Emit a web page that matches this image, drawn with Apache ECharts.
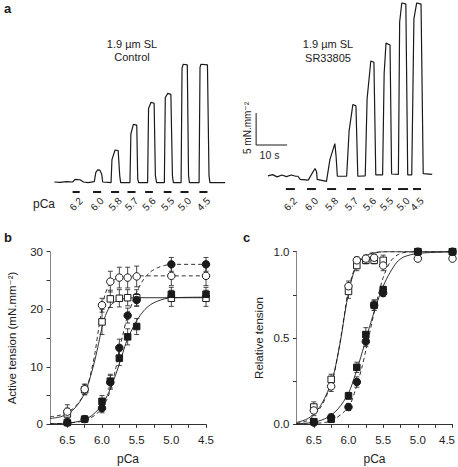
<!DOCTYPE html>
<html><head><meta charset="utf-8">
<script src="https://cdn.jsdelivr.net/npm/echarts@6/dist/echarts.min.js"></script>
<style>html,body{margin:0;padding:0;background:#fff;}#c{width:458px;height:467px;}</style>
</head><body><div id="c"></div>
<script>
// ---------- Panel a: raw tension traces (time in s, tension in mN.mm-2) ----------
const ctrlT = [0.1,1.9,4.0,6.0,6.8,8.4,9.5,11.0, 13.0,13.5,14.1,14.8,15.4,15.7, 18.4,18.7,19.7,20.7,21.2,21.5, 24.5,24.8,25.6,26.7,27.0,27.3, 30.2,30.5,31.3,32.3,32.7,33.1, 35.6,35.9,36.7,37.7,38.2,38.5, 41.0,41.3,41.7,43.0,43.4,43.7, 46.8,47.1,47.4,49.5,50.0,50.3, 55.2];
const ctrlF = [0,-0.05,0.05,0.0,0.4,0.35,0.0,-0.1, 0.05,1.5,1.9,1.85,1.2,0.0, -0.1,3.5,5.0,4.9,1.0,-0.1, -0.1,7.5,9.0,8.9,0.5,-0.1, -0.1,11.5,12.45,12.3,1.0,-0.1, -0.1,13.2,13.85,13.7,1.0,-0.1, -0.1,17.8,18.4,18.3,1.0,-0.1, -0.1,17.9,18.4,18.3,1.0,-0.1, -0.1];
const srT = [69.0,70.5,72.0,73.5,75.0,76.5,78.0,78.7,79.4, 82.0,83.2,84.2,84.7,84.9, 87.9,89.0,90.6,91.0,91.4, 94.4,95.2,96.4,97.4,98.0, 100.4,101.0,102.2,103.2,103.8, 106.0,106.5,107.1,108.4,108.9, 111.1,111.5,112.2,113.5,114.1, 115.4,116.1,117.0,118.4,119.1, 122.0];
const srF = [0.95,1.15,0.8,1.1,0.85,1.1,0.9,0.9,0.4, 0.3,1.3,2.1,1.6,0.4, 0.1,3.5,6.0,4.0,0.9, 0.9,8.0,12.1,11.9,0.9, 0.95,13.0,18.9,18.7,1.1, 1.1,17.0,21.7,21.4,1.25, 1.2,25.0,28.0,27.8,1.1, 1.1,25.5,28.0,27.8,1.3, 1.2];
const stepLabels = ['6.2','6.0','5.8','5.7','5.6','5.5','5.0','4.5'];
const ctrlBarStart = [6.0,12.6,18.4,23.7,29.4,35.4,40.8,46.9];
const ctrlBarEnd   = [8.3,15.2,21.0,26.3,31.9,37.9,43.4,49.5];
const ctrlBarLevel = -1.56;
const srBarStart = [74.8,81.6,88.1,94.5,100.3,105.8,111.0,115.8];
const srBarEnd   = [77.7,84.5,91.0,97.4,103.2,108.7,114.2,118.4];
const srBarLevel = -1.1;
const stepLabelLevel = -3.45;
const scaleOrigin = [65.2, 5.78]; // s, mN.mm-2
const scaleLenT = 10, scaleLenF = 5;

// ---------- Panels b & c: data points ----------
const pCaPts = [6.5, 6.25, 6.0, 5.88, 5.75, 5.63, 5.5, 5.0, 4.5];
const bOpenCirc    = [2.2, 6.1, 20.7, 24.8, 25.5, 25.5, 25.7, 25.8, 25.8];
const bOpenCircErr = [1.2, 0.9, 1.2, 1.8, 1.8, 1.8, 1.8, 1.7, 1.7];
const bOpenSq      = [1.8, 6.0, 17.8, 21.8, 21.9, 22.0, 22.0, 21.9, 21.9];
const bOpenSqErr   = [1.0, 0.9, 2.2, 1.5, 1.5, 1.4, 1.4, 1.4, 1.4];
const bFillCirc    = [0.3, 0.9, 2.8, 7.3, 13.3, 18.9, 21.6, 27.8, 27.8];
const bFillCircErr = [0.3, 0.4, 0.8, 1.2, 1.5, 1.3, 1.1, 1.2, 1.2];
const bFillSq      = [0.3, 0.9, 4.0, 7.5, 11.5, 15.2, 17.0, 22.6, 22.6];
const bFillSqErr   = [0.3, 0.4, 1.0, 1.2, 1.3, 1.4, 1.4, 1.2, 1.2];

const cOpenCirc    = [0.08, 0.22, 0.80, 0.95, 0.96, 0.965, 0.92, 0.96, 0.96];
const cOpenCircErr = [0.03, 0.03, 0.03, 0.02, 0.02, 0.02, 0.03, 0.01, 0.01];
const cOpenSq      = [0.10, 0.26, 0.77, 0.92, 0.95, 0.95, 0.95, 1.0, 1.0];
const cOpenSqErr   = [0.03, 0.03, 0.04, 0.03, 0.02, 0.02, 0.03, 0.01, 0.01];
const cFillCirc    = [0.01, 0.04, 0.10, 0.245, 0.48, 0.69, 0.76, 1.0, 1.0];
const cFillCircErr = [0.01, 0.02, 0.02, 0.03, 0.03, 0.03, 0.02, 0.0, 0.0];
const cFillSq      = [0.015, 0.03, 0.165, 0.33, 0.52, 0.69, 0.78, 1.0, 1.0];
const cFillSqErr   = [0.01, 0.02, 0.02, 0.03, 0.04, 0.03, 0.02, 0.0, 0.0];

// ---------- fitted curves ----------
const bCurveOpenSqX   = [6.75,6.6,6.5,6.4,6.3,6.22,6.15,6.1,6.05,6.0,5.95,5.88,5.8,5.7,5.6,5.5,5.0,4.5];
const bCurveOpenSqY   = [1.0,1.3,1.8,2.7,4.3,6.3,9.0,11.3,14.0,16.8,18.9,20.6,21.4,21.8,21.95,22.0,22.0,22.0];
const bCurveOpenCircX = [6.75,6.6,6.5,6.4,6.3,6.22,6.15,6.1,6.05,6.0,5.95,5.88,5.8,5.7,5.6,5.5,5.0,4.5];
const bCurveOpenCircY = [1.3,1.6,2.1,2.9,4.4,6.2,9.5,12.5,16.5,20.2,22.8,24.5,25.3,25.6,25.75,25.8,25.8,25.8];
const bCurveFillSqX   = [6.75,6.5,6.3,6.2,6.1,6.0,5.9,5.8,5.75,5.7,5.64,5.55,5.5,5.4,5.3,5.2,5.1,5.0,4.5];
const bCurveFillSqY   = [0.1,0.2,0.6,1.1,2.0,3.4,5.6,8.7,10.5,12.4,14.6,16.9,18.0,19.7,20.8,21.4,21.8,22.0,22.1];
const bCurveFillCircX = [6.75,6.5,6.3,6.2,6.1,6.0,5.9,5.8,5.75,5.7,5.64,5.55,5.5,5.4,5.3,5.2,5.1,5.0,4.5];
const bCurveFillCircY = [0.1,0.2,0.5,0.9,1.6,2.8,5.2,9.8,13.0,15.5,18.5,21.5,23.0,25.2,26.5,27.2,27.6,27.8,27.8];

const cCurveLeftX   = [6.75,6.6,6.5,6.4,6.3,6.22,6.15,6.1,6.05,6.0,5.94,5.88,5.8,5.7,5.6,5.5,5.0,4.5];
const cCurveLeftY   = [0.01,0.03,0.06,0.11,0.19,0.28,0.41,0.52,0.65,0.76,0.86,0.92,0.96,0.985,0.995,1.0,1.0,1.0];
const cCurveLeftDX  = [6.75,6.6,6.5,6.4,6.3,6.22,6.15,6.1,6.05,6.0,5.94,5.88,5.8,5.7,5.6,5.5,5.0,4.5];
const cCurveLeftDY  = [0.005,0.02,0.05,0.1,0.18,0.27,0.41,0.53,0.66,0.78,0.87,0.93,0.97,0.99,0.997,1.0,1.0,1.0];
const cCurveRightX  = [6.75,6.5,6.3,6.15,6.0,5.9,5.8,5.75,5.7,5.6,5.5,5.4,5.3,5.2,5.0,4.5];
const cCurveRightY  = [0.003,0.012,0.04,0.09,0.18,0.29,0.42,0.49,0.56,0.69,0.80,0.88,0.94,0.97,0.99,1.0];
const cCurveRightDX = [6.75,6.5,6.25,6.0,5.9,5.8,5.75,5.7,5.6,5.5,5.4,5.3,5.2,5.0,4.5];
const cCurveRightDY = [0.0,0.005,0.02,0.1,0.2,0.34,0.43,0.52,0.7,0.85,0.94,0.98,0.995,1.0,1.0];

// ---------- build ----------
const FONT = "'Liberation Sans', Arial, 'DejaVu Sans', sans-serif";
const INK = '#1a1a1a';
const zip = (a, b) => a.map((v, i) => [v, b[i]]);
const zip3 = (a, b, c) => a.map((v, i) => [v, b[i], c[i]]);

function curve(grid, xs, ys, dashed) {
  return { type: 'line', xAxisIndex: grid, yAxisIndex: grid, data: zip(xs, ys), smooth: 0.3,
    showSymbol: false, symbol: 'none', z: 2, silent: true,
    lineStyle: { color: INK, width: 0.9, type: dashed ? [4, 3] : 'solid' } };
}
function errs(grid, xs, ys, es) {
  return { type: 'custom', xAxisIndex: grid, yAxisIndex: grid, data: zip3(xs, ys, es), z: 3, silent: true,
    renderItem: (p, api) => {
      const x = api.value(0), y = api.value(1), e = api.value(2);
      const t = api.coord([x, y + e]), b = api.coord([x, y - e]);
      const st = { stroke: '#333', lineWidth: 0.9 };
      return { type: 'group', children: [
        { type: 'line', shape: { x1: t[0], y1: t[1], x2: b[0], y2: b[1] }, style: st },
        { type: 'line', shape: { x1: t[0] - 2.5, y1: t[1], x2: t[0] + 2.5, y2: t[1] }, style: st },
        { type: 'line', shape: { x1: b[0] - 2.5, y1: b[1], x2: b[0] + 2.5, y2: b[1] }, style: st }
      ]};
    } };
}
function pts(grid, xs, ys, symbol, filled) {
  return { type: 'scatter', xAxisIndex: grid, yAxisIndex: grid, data: zip(xs, ys), z: 4, silent: true,
    symbol: symbol, symbolSize: symbol === 'rect' ? 6.5 : 7.5,
    itemStyle: { color: filled ? INK : '#fff', borderColor: INK, borderWidth: 1, opacity: 1 } };
}
function bars(starts, ends, level) {
  return starts.map((s, i) => [s, ends[i], level]);
}

const ticksX = [6.5,6.25,6.0,5.75,5.5,5.25,5.0,4.75,4.5];
const labelsX = [6.5,6.0,5.5,5.0,4.5];
function pcaAxis(grid, squeezeLast) {
  return { type: 'value', gridIndex: grid, inverse: true, min: 4.5, max: 6.75, offset: 4,
    axisLine: { show: true, lineStyle: { color: '#333', width: 1 } },
    axisTick: { show: true, customValues: ticksX, length: 3.5, lineStyle: { color: '#333' } },
    axisLabel: { customValues: labelsX, fontSize: 11.5, color: '#222', fontFamily: FONT, margin: 6,
      formatter: v => (squeezeLast && v === 4.5) ? '{r|4.5}' : v.toFixed(1),
      rich: { r: { fontSize: 11.5, color: '#222', fontFamily: FONT, padding: [0, 11, 0, 0] } } },
    splitLine: { show: false },
    name: 'pCa', nameLocation: 'middle', nameGap: 25,
    nameTextStyle: { fontSize: 12, color: '#222', fontFamily: FONT } };
}

const option = {
  animation: false,
  backgroundColor: '#fff',
  textStyle: { fontFamily: FONT },
  grid: [
    { left: 54, top: 2.8, width: 403, height: 211.2, containLabel: false, outerBoundsMode: 'none' },
    { left: 50, top: 251.7, width: 156, height: 172.6, containLabel: false, outerBoundsMode: 'none' },
    { left: 296.5, top: 251.7, width: 156, height: 172.6, containLabel: false, outerBoundsMode: 'none' }
  ],
  xAxis: [
    { type: 'value', gridIndex: 0, min: 0, max: 130, show: false },
    pcaAxis(1, false),
    pcaAxis(2, true)
  ],
  yAxis: [
    { type: 'value', gridIndex: 0, min: -5, max: 28, show: false },
    { type: 'value', gridIndex: 1, min: 0, max: 30,
      axisLine: { show: true, lineStyle: { color: '#666', width: 0.8 } },
      axisTick: { show: true, customValues: [0,5,10,15,20,25,30], length: 3.5, lineStyle: { color: '#333' } },
      axisLabel: { customValues: [0,10,20,30], fontSize: 11.5, color: '#222', fontFamily: FONT, margin: 7 },
      splitLine: { show: false },
      name: 'Active tension (mN.mm\u207B\u00B2)', nameLocation: 'middle', nameGap: 32, nameRotate: 90,
      nameTextStyle: { fontSize: 11.5, color: '#222', fontFamily: FONT } },
    { type: 'value', gridIndex: 2, min: 0, max: 1,
      axisLine: { show: true, lineStyle: { color: '#666', width: 0.8 } },
      axisTick: { show: true, customValues: [0,0.25,0.5,0.75,1], length: 3.5, lineStyle: { color: '#333' } },
      axisLabel: { customValues: [0,0.5,1], formatter: v => v.toFixed(1), fontSize: 11.5, color: '#222', fontFamily: FONT, margin: 7 },
      splitLine: { show: false },
      name: 'Relative tension', nameLocation: 'middle', nameGap: 32, nameRotate: 90,
      nameTextStyle: { fontSize: 11.5, color: '#222', fontFamily: FONT } }
  ],
  graphic: [
    { type: 'text', left: 4, top: 2, style: { text: 'a', font: 'bold 13px ' + FONT, fill: INK } },
    { type: 'text', left: 4, top: 231, style: { text: 'b', font: 'bold 13px ' + FONT, fill: INK } },
    { type: 'text', left: 243, top: 231, style: { text: 'c', font: 'bold 13px ' + FONT, fill: INK } },
    { type: 'text', x: 132, y: 44, style: { text: '1.9 \u00B5m SL', font: '11px ' + FONT, fill: '#222', align: 'center', verticalAlign: 'middle' } },
    { type: 'text', x: 132, y: 57, style: { text: 'Control', font: '11px ' + FONT, fill: '#222', align: 'center', verticalAlign: 'middle' } },
    { type: 'text', x: 328, y: 44, style: { text: '1.9 \u00B5m SL', font: '11px ' + FONT, fill: '#222', align: 'center', verticalAlign: 'middle' } },
    { type: 'text', x: 328, y: 58, style: { text: 'SR33805', font: '11px ' + FONT, fill: '#222', align: 'center', verticalAlign: 'middle' } },
    { type: 'text', x: 247, y: 128, rotation: Math.PI / 2, style: { text: '5 mN.mm\u207B\u00B2', font: '10px ' + FONT, fill: '#222', align: 'center', verticalAlign: 'middle' } },
    { type: 'text', x: 269.5, y: 155, style: { text: '10 s', font: '10.5px ' + FONT, fill: '#222', align: 'center', verticalAlign: 'middle' } },
    { type: 'text', x: 44, y: 204, style: { text: 'pCa', font: '12px ' + FONT, fill: '#222', align: 'center', verticalAlign: 'middle' } }
  ],
  series: [
    // panel a
    { type: 'line', xAxisIndex: 0, yAxisIndex: 0, data: zip(ctrlT, ctrlF), showSymbol: false, symbol: 'none',
      lineStyle: { color: INK, width: 1.2 }, silent: true },
    { type: 'line', xAxisIndex: 0, yAxisIndex: 0, data: zip(srT, srF), showSymbol: false, symbol: 'none',
      lineStyle: { color: INK, width: 1.2 }, silent: true },
    { type: 'line', xAxisIndex: 0, yAxisIndex: 0, showSymbol: false, symbol: 'none', silent: true,
      data: [[scaleOrigin[0], scaleOrigin[1] + scaleLenF], scaleOrigin, [scaleOrigin[0] + scaleLenT, scaleOrigin[1]]],
      lineStyle: { color: INK, width: 1 } },
    { type: 'custom', xAxisIndex: 0, yAxisIndex: 0, silent: true,
      data: bars(ctrlBarStart, ctrlBarEnd, ctrlBarLevel).concat(bars(srBarStart, srBarEnd, srBarLevel)),
      renderItem: (p, api) => {
        const a = api.coord([api.value(0), api.value(2)]), b = api.coord([api.value(1), api.value(2)]);
        return { type: 'line', shape: { x1: a[0], y1: a[1], x2: b[0], y2: b[1] }, style: { stroke: INK, lineWidth: 2 } };
      } },
    { type: 'custom', xAxisIndex: 0, yAxisIndex: 0, silent: true,
      data: stepLabels.map((n, i) => [(ctrlBarStart[i] + ctrlBarEnd[i]) / 2, stepLabelLevel, i])
        .concat(stepLabels.map((n, i) => [(srBarStart[i] + srBarEnd[i]) / 2, stepLabelLevel, i])),
      renderItem: (p, api) => {
        const c = api.coord([api.value(0), api.value(1)]);
        return { type: 'text', x: c[0], y: c[1], rotation: Math.PI / 4,
          style: { text: stepLabels[api.value(2)], fill: '#222', font: '10px ' + FONT, align: 'center', verticalAlign: 'middle' } };
      } },
    // panel b
    curve(1, bCurveOpenSqX, bCurveOpenSqY, false),
    curve(1, bCurveOpenCircX, bCurveOpenCircY, true),
    curve(1, bCurveFillSqX, bCurveFillSqY, false),
    curve(1, bCurveFillCircX, bCurveFillCircY, true),
    errs(1, pCaPts, bOpenCirc, bOpenCircErr),
    errs(1, pCaPts, bOpenSq, bOpenSqErr),
    errs(1, pCaPts, bFillCirc, bFillCircErr),
    errs(1, pCaPts, bFillSq, bFillSqErr),
    pts(1, pCaPts, bOpenSq, 'rect', false),
    pts(1, pCaPts, bOpenCirc, 'circle', false),
    pts(1, pCaPts, bFillSq, 'rect', true),
    pts(1, pCaPts, bFillCirc, 'circle', true),
    // panel c
    curve(2, cCurveLeftX, cCurveLeftY, false),
    curve(2, cCurveLeftDX, cCurveLeftDY, true),
    curve(2, cCurveRightX, cCurveRightY, false),
    curve(2, cCurveRightDX, cCurveRightDY, true),
    errs(2, pCaPts, cOpenCirc, cOpenCircErr),
    errs(2, pCaPts, cOpenSq, cOpenSqErr),
    errs(2, pCaPts, cFillCirc, cFillCircErr),
    errs(2, pCaPts, cFillSq, cFillSqErr),
    pts(2, pCaPts, cOpenSq, 'rect', false),
    pts(2, pCaPts, cOpenCirc, 'circle', false),
    pts(2, pCaPts, cFillCirc, 'circle', true),
    pts(2, pCaPts, cFillSq, 'rect', true)
  ]
};

const chart = echarts.init(document.getElementById('c'), null, { renderer: 'svg', width: 458, height: 467 });
chart.setOption(option);
</script>
</body></html>
